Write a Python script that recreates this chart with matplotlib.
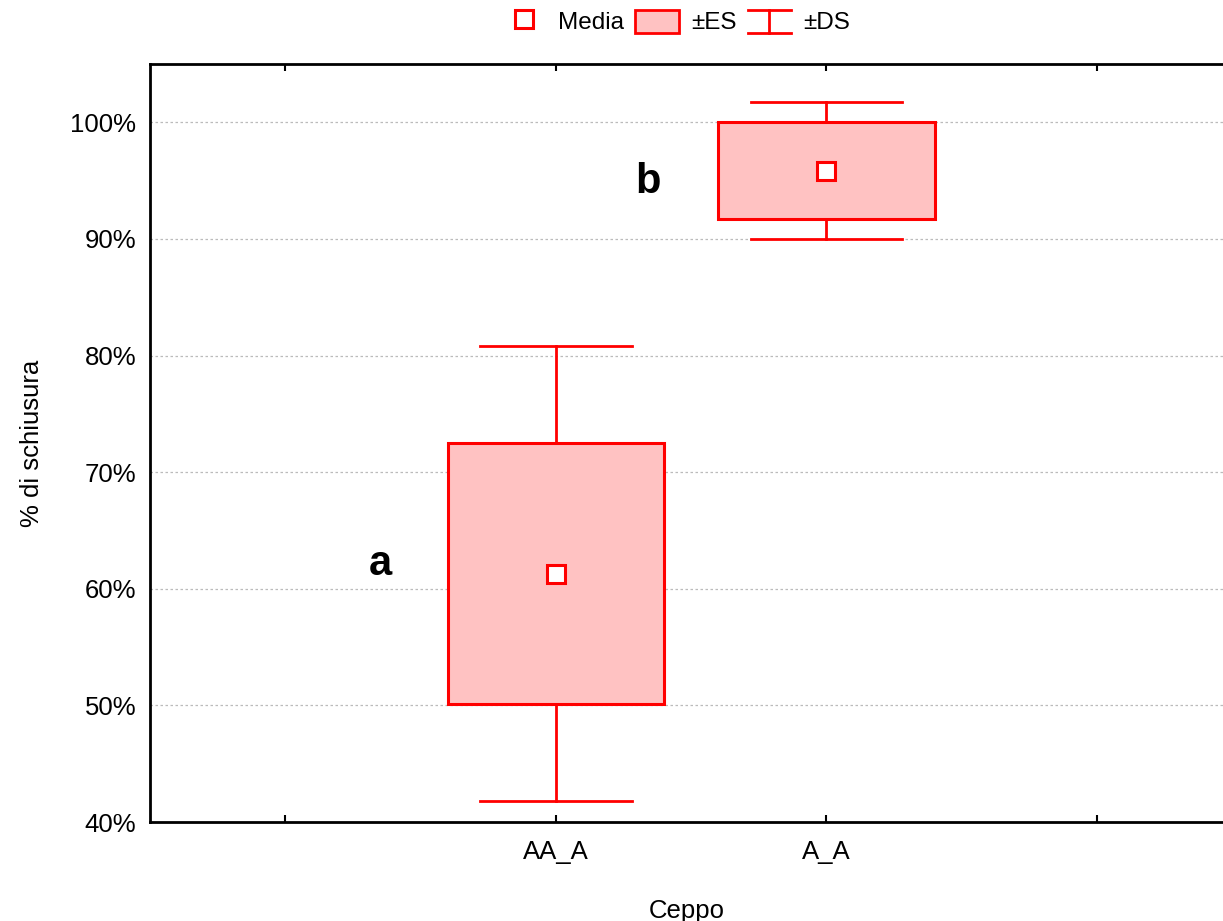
import matplotlib
matplotlib.use("Agg")
import matplotlib.pyplot as plt
from matplotlib.patches import Rectangle, Patch
from matplotlib.lines import Line2D
from matplotlib.legend_handler import HandlerBase

categories = ["AA_A", "A_A"]
means = [61.3, 95.85]
se = [11.2, 4.15]
sd = [19.5, 5.85]
letters = ["a", "b"]
legend_labels = ["Media", "±ES", "±DS"]

RED = "#ff0000"
PINK = "#ffc2c2"
FS = 18.5

plt.rcParams['font.family'] = ['Liberation Sans', 'DejaVu Sans']

fig = plt.figure(figsize=(12.23, 9.21), dpi=100)
ax = fig.add_axes([150/1223, 1-822/921, 1-150/1223, (822-64)/921])

xpos = list(range(1, len(categories)+1))
box_hw = 0.40
cap_hw = 0.28
for x, m, e, s in zip(xpos, means, se, sd):
    ax.plot([x, x], [m+e, m+s], color=RED, lw=2, zorder=3)
    ax.plot([x, x], [m-e, m-s], color=RED, lw=2, zorder=3)
    ax.plot([x-cap_hw, x+cap_hw], [m+s, m+s], color=RED, lw=2, zorder=3)
    ax.plot([x-cap_hw, x+cap_hw], [m-s, m-s], color=RED, lw=2, zorder=3)
    ax.add_patch(Rectangle((x-box_hw, m-e), 2*box_hw, 2*e, facecolor=PINK,
                           edgecolor=RED, lw=2.2, zorder=4))
    ax.plot([x], [m], marker='s', ms=13, mfc='white', mec=RED, mew=2.2, zorder=5)

ax.text(xpos[0] - 0.65, means[0] + 0.8, letters[0], fontsize=30, fontweight='bold',
        ha='center', va='center', zorder=6)
ax.text(xpos[1] - 0.66, means[1] - 1.0, letters[1], fontsize=30, fontweight='bold',
        ha='center', va='center', zorder=6)

ax.set_xlim(-0.5, 3.466)
ax.set_ylim(40, 105)
ax.set_xticks([0, 1, 2, 3])
ax.set_xticklabels(["", categories[0], categories[1], ""], fontsize=FS)
yt = [40, 50, 60, 70, 80, 90, 100]
ax.set_yticks(yt)
ax.set_yticklabels([f"{v}%" for v in yt], fontsize=FS)
ax.tick_params(axis='both', direction='in', length=5, width=1.5, top=True)
ax.tick_params(axis='y', left=False, pad=10)
ax.tick_params(axis='x', pad=13)
for sp in ['left', 'bottom', 'top']:
    ax.spines[sp].set_linewidth(2)
ax.spines['right'].set_visible(False)
for v in yt[1:]:
    ax.axhline(v, color='#bbbbbb', lw=0.9, ls=(0, (2, 2)), zorder=1)

ax.set_ylabel("% di schiusura", fontsize=FS, labelpad=19)
ax.set_xlabel("Ceppo", fontsize=FS, labelpad=25)


class IHandler(HandlerBase):
    def create_artists(self, legend, orig_handle, xdescent, ydescent, width, height, fontsize, trans):
        x0, x1 = -xdescent, -xdescent + width
        y0, y1 = -ydescent, -ydescent + height
        xm = (x0 + x1) / 2
        arts = [Line2D([x0, x1], [y1, y1], color=RED, lw=2),
                Line2D([x0, x1], [y0, y0], color=RED, lw=2),
                Line2D([xm, xm], [y0, y1], color=RED, lw=2)]
        for a in arts:
            a.set_transform(trans)
        return arts


class IMark:
    pass


LFS = 17.5
handles = [Line2D([], [], marker='s', ls='none', ms=13, mfc='white', mec=RED, mew=2.2),
           Patch(facecolor=PINK, edgecolor=RED, lw=2),
           IMark()]
fig.legend(handles, legend_labels, loc='center', bbox_to_anchor=(0.553, 1-22/921),
           ncol=3, frameon=False, fontsize=LFS, handlelength=1.8, handleheight=1.1,
           columnspacing=0.45, handletextpad=0.5, borderpad=0.2,
           handler_map={IMark: IHandler()})

fig.savefig("out.png", dpi=100)
